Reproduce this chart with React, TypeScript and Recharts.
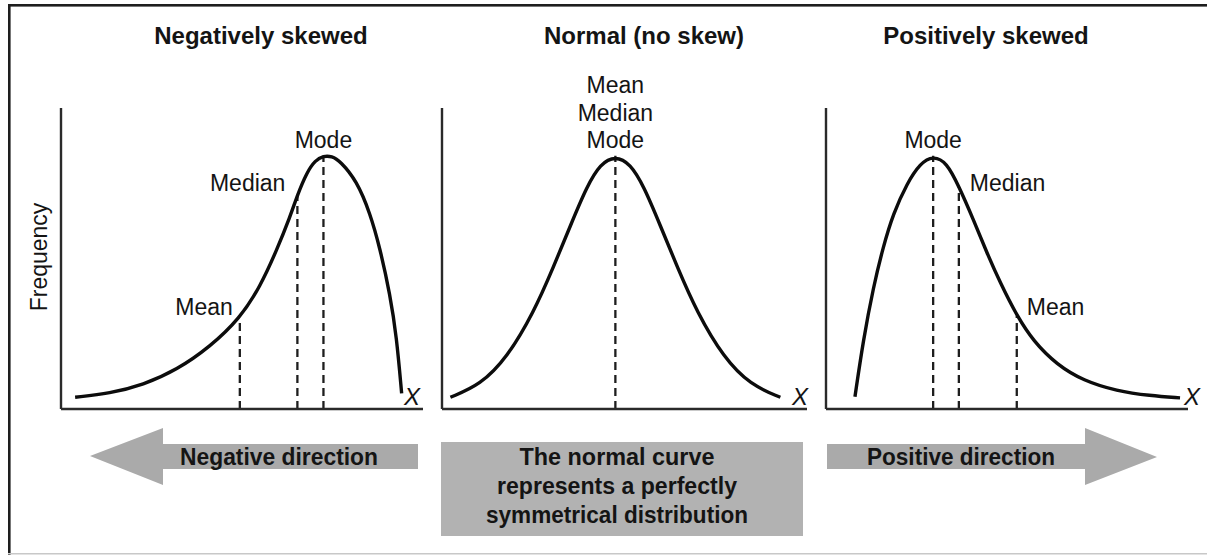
import React from 'react';
import { LineChart, Line, XAxis, YAxis, ReferenceLine, ReferenceDot } from 'recharts';

// ---- data (x = score on a 0-100 scale, freq = relative frequency 0-100) ----
const negX = [3.9, 13.5, 22.7, 32.0, 41.2, 49.4, 55.0, 59.6, 63.3, 65.3, 67.9, 70.2, 72.5, 74.8, 77.1, 81.7, 85.4, 88.1, 90.9, 92.7, 94.1];
const negFreq = [3.9, 5.2, 8.0, 13.0, 20.7, 30.1, 40.6, 52.8, 63.9, 71.1, 78.6, 82.6, 84.1, 84.0, 82.4, 75.8, 65.0, 53.5, 38.0, 24.0, 5.2];
const negMarkerNames = ['Mean', 'Median', 'Mode'];
const negMarkerX = [49.4, 65.3, 72.5];
const negMarkerFreq = [30.1, 71.1, 84.1];

const normX = [2.3, 10.5, 17.8, 25.1, 30.6, 35.2, 39.7, 43.4, 47.5, 51.6, 55.3, 59.8, 64.4, 69.9, 77.2, 84.5, 92.7];
const normFreq = [3.9, 8.0, 17.0, 32.0, 47.3, 61.0, 74.0, 81.5, 84.1, 81.5, 74.0, 61.0, 47.3, 32.0, 17.0, 8.0, 3.9];
const normMarkerNames = ['Mean', 'Median', 'Mode'];
const normMarkerX = [47.5, 47.5, 47.5];
const normMarkerFreq = [84.1, 84.1, 84.1];

const posX = [8.0, 10.3, 13.1, 15.8, 18.6, 22.4, 26.0, 29.6, 33.3, 36.7, 40.7, 44.4, 48.1, 52.7, 57.3, 63.7, 71.1, 80.3, 89.5, 97.8];
const posFreq = [4.1, 22.9, 40.6, 53.9, 65.0, 75.0, 81.6, 84.1, 82.0, 74.0, 63.0, 52.0, 42.0, 31.0, 22.5, 14.8, 9.4, 6.0, 4.4, 3.7];
const posMarkerNames = ['Mode', 'Median', 'Mean'];
const posMarkerX = [29.6, 36.7, 52.7];
const posMarkerFreq = [84.1, 74.0, 31.0];

const panelTitles = ['Negatively skewed', 'Normal (no skew)', 'Positively skewed'];
const yAxisTitle = 'Frequency';
const xAxisTitle = 'X';
const directionTexts = ['Negative direction', 'Positive direction'];
const normalNote = ['The normal curve', 'represents a perfectly', 'symmetrical distribution'];

// ---- styles ----
const FONT = '"Liberation Sans", Arial, Helvetica, sans-serif';
const INK = '#141414';

type LabelStyle = { dx: number; dy: number; anchor: 'start' | 'middle' | 'end' };
const negLabelStyle: LabelStyle[] = [
  { dx: -7, dy: -11, anchor: 'end' },
  { dx: -12, dy: -12, anchor: 'end' },
  { dx: 0, dy: -16, anchor: 'middle' },
];
const normLabelStyle: LabelStyle[] = [
  { dx: 0, dy: -71, anchor: 'middle' },
  { dx: 0, dy: -43, anchor: 'middle' },
  { dx: 0, dy: -16, anchor: 'middle' },
];
const posLabelStyle: LabelStyle[] = [
  { dx: 0, dy: -16, anchor: 'middle' },
  { dx: 11, dy: -3, anchor: 'start' },
  { dx: 10, dy: -9, anchor: 'start' },
];

type PanelProps = {
  xs: number[];
  ys: number[];
  names: string[];
  mx: number[];
  my: number[];
  labelStyle: LabelStyle[];
  left: number;
  width: number;
  margin: { top: number; left: number; right: number; bottom: number };
};

function Panel({ xs, ys, names, mx, my, labelStyle, left, width, margin }: PanelProps) {
  const data = xs.map((x, i) => ({ x, freq: ys[i] }));
  const uniqueLines = mx.filter((v, i) => mx.indexOf(v) === i);
  return (
    <div style={{ position: 'absolute', left, top: 0 }}>
      <LineChart width={width} height={420} data={data} margin={margin}>
        <XAxis
          type="number"
          dataKey="x"
          domain={[0, 100]}
          height={1}
          tick={false}
          tickLine={false}
          axisLine={{ stroke: '#2a2a2a', strokeWidth: 2.4 }}
        />
        <YAxis
          type="number"
          domain={[0, 100]}
          width={1}
          tick={false}
          tickLine={false}
          axisLine={{ stroke: '#2a2a2a', strokeWidth: 2.4 }}
        />
        {uniqueLines.map((v) => {
          const i = mx.indexOf(v);
          return (
            <ReferenceLine
              key={'l' + v}
              segment={[{ x: v, y: 0 }, { x: v, y: my[i] }]}
              stroke="#1e1e1e"
              strokeWidth={2.3}
              strokeDasharray="8 5"
            />
          );
        })}
        <Line
          type="basis"
          dataKey="freq"
          stroke="#0c0c0c"
          strokeWidth={3.4}
          dot={false}
          activeDot={false}
          isAnimationActive={false}
        />
        {names.map((n, i) => (
          <ReferenceDot
            key={n}
            x={mx[i]}
            y={my[i]}
            r={0}
            shape={(p: any) => (
              <text
                x={p.cx + labelStyle[i].dx}
                y={p.cy + labelStyle[i].dy}
                textAnchor={labelStyle[i].anchor}
                dominantBaseline="central"
                fontFamily={FONT}
                fontSize={23}
                fill={INK}
              >
                {n}
              </text>
            )}
          />
        ))}
      </LineChart>
    </div>
  );
}

export default function App() {
  return (
    <div
      style={{
        position: 'absolute',
        left: 0,
        top: 0,
        width: 1207,
        height: 555,
        background: '#fff',
        overflow: 'hidden',
      }}
    >
      <Panel
        xs={negX}
        ys={negFreq}
        names={negMarkerNames}
        mx={negMarkerX}
        my={negMarkerFreq}
        labelStyle={negLabelStyle}
        left={20}
        width={410}
        margin={{ top: 108, left: 40, right: 7, bottom: 10 }}
      />
      <Panel
        xs={normX}
        ys={normFreq}
        names={normMarkerNames}
        mx={normMarkerX}
        my={normMarkerFreq}
        labelStyle={normLabelStyle}
        left={432}
        width={385}
        margin={{ top: 108, left: 9, right: 10, bottom: 10 }}
      />
      <Panel
        xs={posX}
        ys={posFreq}
        names={posMarkerNames}
        mx={posMarkerX}
        my={posMarkerFreq}
        labelStyle={posLabelStyle}
        left={818}
        width={389}
        margin={{ top: 108, left: 7, right: 19, bottom: 10 }}
      />
      <svg
        width={1207}
        height={555}
        style={{ position: 'absolute', left: 0, top: 0, pointerEvents: 'none' }}
      >
        {/* frame */}
        <rect x={8} y={4} width={1199} height={2.6} fill="#1e1e1e" />
        <rect x={8} y={4} width={2.6} height={551} fill="#1e1e1e" />
        <rect x={8} y={553} width={1199} height={1.5} fill="#c8c8c8" />

        {/* titles */}
        {[261, 644, 986].map((cx, i) => (
          <text
            key={panelTitles[i]}
            x={cx}
            y={35}
            textAnchor="middle"
            dominantBaseline="central"
            fontFamily={FONT}
            fontWeight="bold"
            fontSize={24}
            fill={INK}
          >
            {panelTitles[i]}
          </text>
        ))}

        {/* y-axis title */}
        <text
          x={39}
          y={257}
          transform="rotate(-90 39 257)"
          textAnchor="middle"
          dominantBaseline="central"
          fontFamily={FONT}
          fontSize={23}
          fill={INK}
        >
          {yAxisTitle}
        </text>

        {/* X labels */}
        {[412, 800, 1192].map((cx) => (
          <text
            key={cx}
            x={cx}
            y={396}
            textAnchor="middle"
            dominantBaseline="central"
            fontFamily={FONT}
            fontStyle="italic"
            fontSize={24}
            fill={INK}
          >
            {xAxisTitle}
          </text>
        ))}

        {/* arrows */}
        <polygon
          points="90,456 163,428 163,444 418,444 418,469 163,469 163,485"
          fill="#aaaaaa"
        />
        <polygon
          points="827,444 1085,444 1085,428 1157,457 1085,485 1085,469 827,469"
          fill="#aaaaaa"
        />
        <text
          x={279}
          y={457}
          textAnchor="middle"
          dominantBaseline="central"
          fontFamily={FONT}
          fontWeight="bold"
          fontSize={23}
          textLength={198}
          lengthAdjust="spacingAndGlyphs"
          fill={INK}
        >
          {directionTexts[0]}
        </text>
        <text
          x={961}
          y={457}
          textAnchor="middle"
          dominantBaseline="central"
          fontFamily={FONT}
          fontWeight="bold"
          fontSize={23}
          textLength={188}
          lengthAdjust="spacingAndGlyphs"
          fill={INK}
        >
          {directionTexts[1]}
        </text>

        {/* center box */}
        <rect x={441} y={442} width={362} height={94} fill="#b2b2b2" />
        {normalNote.map((t, i) => (
          <text
            key={t}
            x={617}
            y={457 + i * 29}
            textAnchor="middle"
            dominantBaseline="central"
            fontFamily={FONT}
            fontWeight="bold"
            fontSize={23}
            textLength={[195, 240, 262][i]}
            lengthAdjust="spacingAndGlyphs"
            fill={INK}
          >
            {t}
          </text>
        ))}
      </svg>
    </div>
  );
}
